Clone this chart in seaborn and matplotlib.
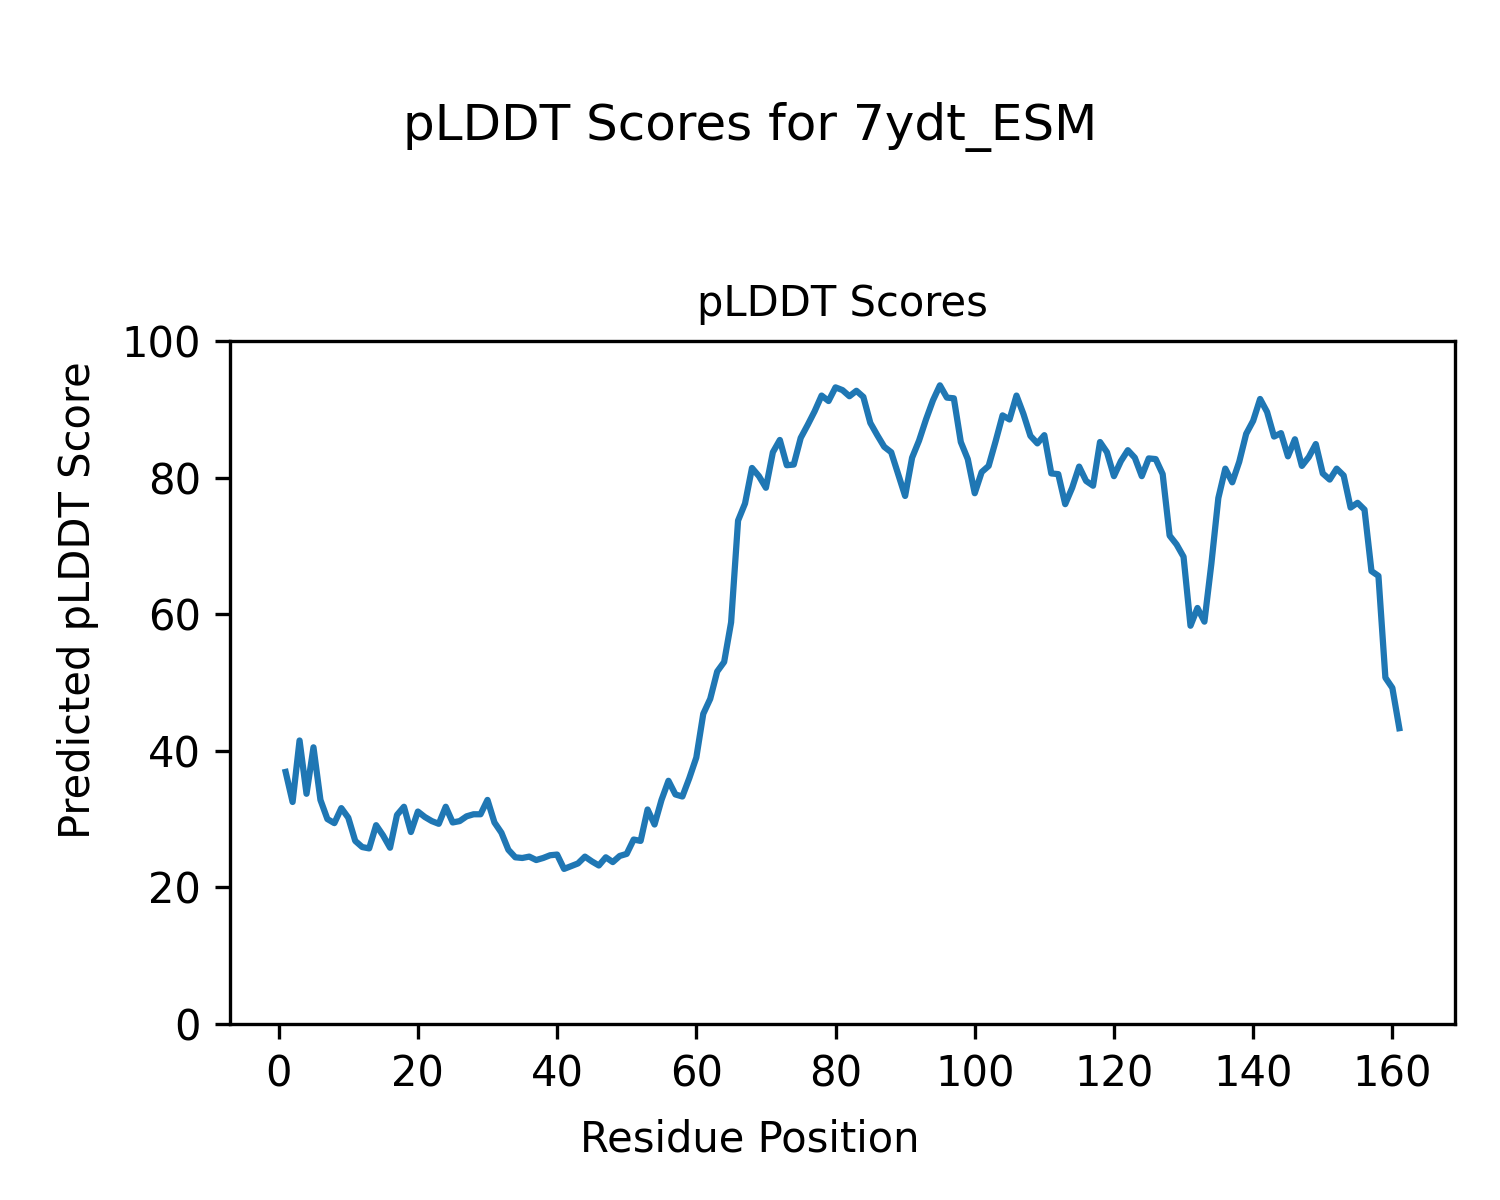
import matplotlib
matplotlib.use("Agg")
import matplotlib.pyplot as plt
import seaborn as sns
import pandas as pd

residues = list(range(1, 162))
plddt = [
    36.9, 32.5, 41.5, 33.7, 40.5, 32.8, 30.0, 29.4, 31.6, 30.2,
    26.8, 25.9, 25.7, 29.1, 27.6, 25.8, 30.6, 31.8, 28.1, 31.1,
    30.3, 29.7, 29.3, 31.8, 29.5, 29.7, 30.4, 30.7, 30.7, 32.8,
    29.5, 28.0, 25.5, 24.4, 24.3, 24.5, 24.0, 24.3, 24.7, 24.8,
    22.7, 23.1, 23.5, 24.5, 23.8, 23.2, 24.4, 23.7, 24.6, 24.9,
    27.0, 26.8, 31.4, 29.2, 32.8, 35.6, 33.6, 33.3, 36.0, 39.0,
    45.4, 47.6, 51.6, 53.0, 58.8, 73.7, 76.2, 81.4, 80.2, 78.5,
    83.7, 85.5, 81.8, 81.9, 85.8, 87.7, 89.7, 92.0, 91.2, 93.2,
    92.8, 91.9, 92.7, 91.8, 88.0, 86.2, 84.5, 83.7, 80.5, 77.3,
    82.9, 85.4, 88.5, 91.3, 93.5, 91.7, 91.6, 85.2, 82.7, 77.7,
    80.8, 81.7, 85.3, 89.1, 88.5, 92.0, 89.3, 86.1, 85.0, 86.2,
    80.6, 80.5, 76.1, 78.5, 81.6, 79.5, 78.8, 85.2, 83.7, 80.2,
    82.4, 84.0, 82.9, 80.2, 82.8, 82.7, 80.5, 71.5, 70.2, 68.4,
    58.3, 60.9, 58.9, 67.4, 77.0, 81.3, 79.3, 82.3, 86.4, 88.3,
    91.5, 89.6, 86.0, 86.5, 83.1, 85.6, 81.7, 83.0, 84.9, 80.6,
    79.7, 81.3, 80.3, 75.6, 76.3, 75.3, 66.3, 65.6, 50.7, 49.2,
    43.3,
]

df = pd.DataFrame({"Residue Position": residues, "pLDDT": plddt})

fig = plt.figure(figsize=(5, 4), dpi=300)
ax = fig.add_axes([0.1533, 0.1467, 0.8167, 0.5692])
sns.lineplot(data=df, x="Residue Position", y="pLDDT", ax=ax, color="#1f77b4", linewidth=1.5)
ax.set_ylim(0, 100)
ax.set_xlabel("")
ax.set_ylabel("")
ax.set_title("pLDDT Scores", fontsize=10)
fig.suptitle("pLDDT Scores for 7ydt_ESM", fontsize=12, y=0.915)
fig.supxlabel("Residue Position", fontsize=10, y=0.033)
fig.supylabel("Predicted pLDDT Score", fontsize=10, x=0.038)
fig.savefig("out.png", dpi=300)
